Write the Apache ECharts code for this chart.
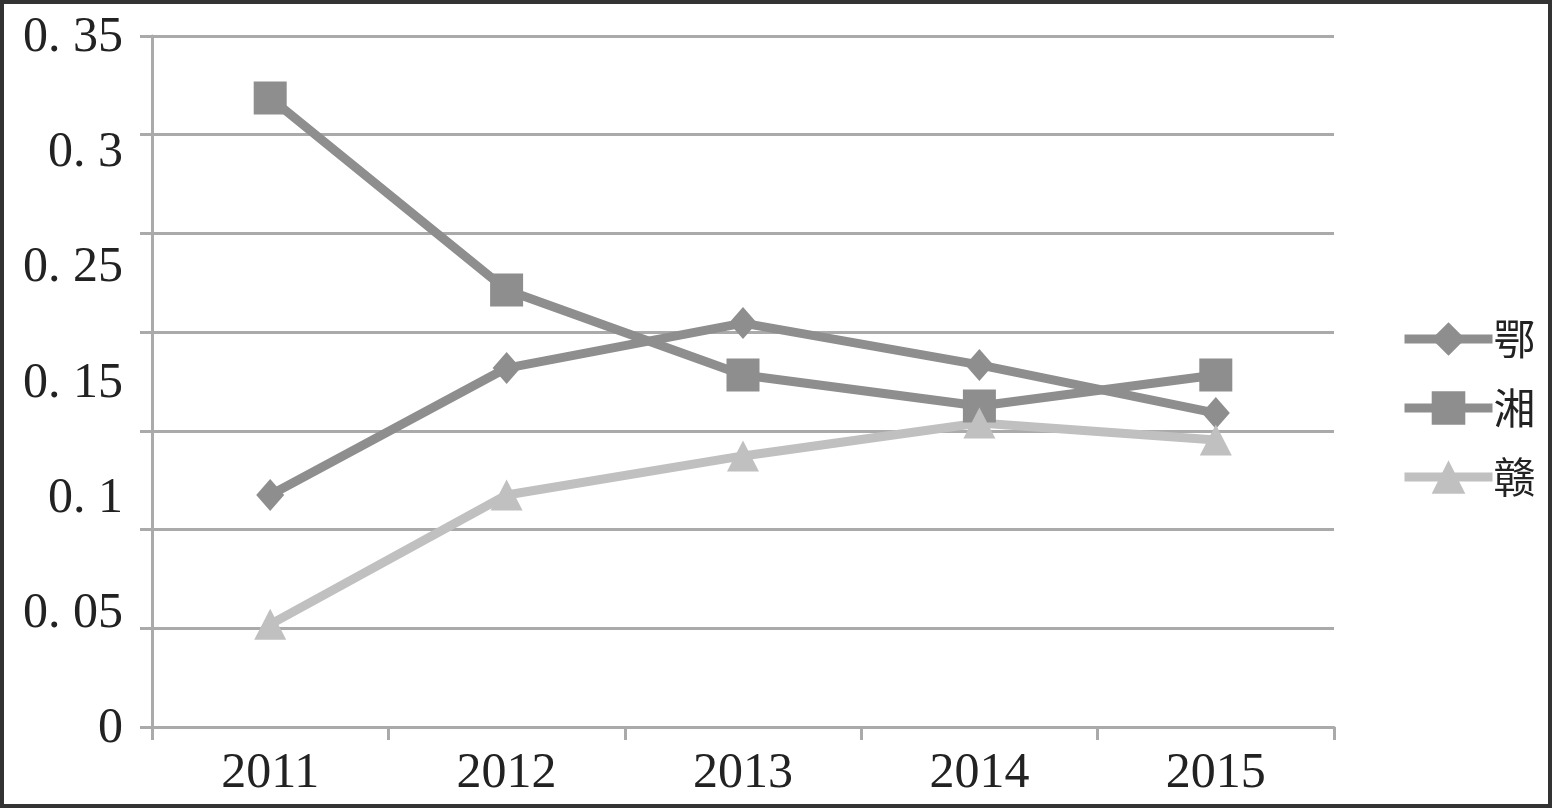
<!DOCTYPE html>
<html>
<head>
<meta charset="utf-8">
<script src="https://cdn.jsdelivr.net/npm/echarts@6/dist/echarts.min.js"></script>
<style>
html,body{margin:0;padding:0;background:#fff;}
#c{width:1552px;height:808px;}
</style>
</head>
<body>
<div id="c"></div>
<script>
const categories = ['2011', '2012', '2013', '2014', '2015'];
const seriesNames = ['鄂', '湘', '赣'];
const eData = [0.1175, 0.1818, 0.2046, 0.1834, 0.159];
const xData = [0.3186, 0.2213, 0.1783, 0.1626, 0.1783];
const gData = [0.052, 0.1175, 0.1373, 0.154, 0.1454];
const yTickLabels = ['0', '0. 05', '0. 1', '0. 15', '0. 25', '0. 3', '0. 35'];

const chart = echarts.init(document.getElementById('c'), null, {renderer: 'canvas'});
const axisGray = '#aaaaaa';
const serif = '"Liberation Serif", "DejaVu Serif", serif';
const darkGray = '#8e8e8e';
const lightGray = '#c0c0c0';

chart.setOption({
  animation: false,
  backgroundColor: '#ffffff',
  graphic: [{
    type: 'rect',
    shape: {x: 2, y: 2, width: 1548, height: 804},
    style: {fill: 'none', stroke: '#333333', lineWidth: 4},
    silent: true,
    z: 100
  }],
  grid: [
    {left: 152, right: 218, top: 36, bottom: 81},
    {left: 152, right: 218, top: 38, bottom: 79}
  ],
  legend: {
    orient: 'vertical',
    left: 1395,
    top: 313,
    itemWidth: 88,
    itemHeight: 42,
    itemGap: 27,
    data: seriesNames,
    lineStyle: {width: 9},
    textStyle: {fontSize: 42, color: '#222', fontFamily: '"Noto Sans CJK SC", sans-serif', padding: [0, 0, 0, -4]}
  },
  xAxis: [
    {
      type: 'category',
      gridIndex: 0,
      data: categories,
      boundaryGap: true,
      axisLine: {lineStyle: {color: axisGray, width: 3}},
      axisTick: {show: true, length: 13, lineStyle: {color: axisGray, width: 3}},
      axisLabel: {fontSize: 50, color: '#222', fontFamily: serif, margin: 22}
    },
    {type: 'value', gridIndex: 1, show: false}
  ],
  yAxis: [
    {
      type: 'value',
      gridIndex: 0,
      min: 0,
      max: 0.35,
      interval: 0.05,
      axisLine: {show: true, lineStyle: {color: axisGray, width: 3}},
      axisTick: {show: true, length: 12, lineStyle: {color: axisGray, width: 3}},
      axisLabel: {show: false},
      splitLine: {show: true, lineStyle: {color: axisGray, width: 3}}
    },
    {
      type: 'value',
      gridIndex: 1,
      min: 0,
      max: 6,
      interval: 1,
      axisLine: {show: false},
      axisTick: {show: false},
      splitLine: {show: false},
      axisLabel: {
        fontSize: 50, color: '#222', fontFamily: serif, margin: 29,
        formatter: function (v) { return yTickLabels[Math.round(v)]; }
      }
    }
  ],
  series: [
    {
      name: seriesNames[0], type: 'line', data: eData,
      xAxisIndex: 0, yAxisIndex: 0,
      symbol: 'diamond', symbolSize: [28, 32],
      lineStyle: {color: darkGray, width: 9},
      itemStyle: {color: darkGray}
    },
    {
      name: seriesNames[1], type: 'line', data: xData,
      xAxisIndex: 0, yAxisIndex: 0,
      symbol: 'rect', symbolSize: 33,
      lineStyle: {color: darkGray, width: 9},
      itemStyle: {color: darkGray}
    },
    {
      name: seriesNames[2], type: 'line', data: gData,
      xAxisIndex: 0, yAxisIndex: 0,
      symbol: 'triangle', symbolSize: [32, 31],
      lineStyle: {color: lightGray, width: 9},
      itemStyle: {color: lightGray}
    }
  ]
});
</script>
</body>
</html>
